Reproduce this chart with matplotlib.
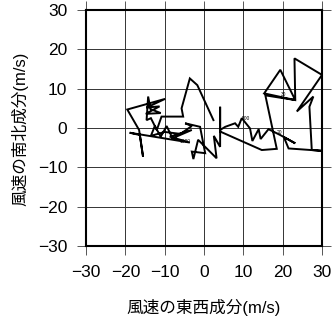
import matplotlib
matplotlib.use("Agg")
import matplotlib.pyplot as plt

# wind components (m/s): east-west (u) and north-south (v), in path order
u = [2.4, -1.7, -3.6, -5.7, -5.3, -10.8, -12.0, -13.5, -14.6, -14.2, -13.6, -11.0,
     -14.8, -11.3, -14.6, -9.9, -19.5, -16.5, -15.5, -16.3, -18.9, -3.6, -8.7,
     -3.1, -8.0, -9.5, -11.0, -12.5, -13.5, -10.0, -6.0, -3.1,
     -4.8, -1.0, 0.3, -3.1, -2.7, -1.5, 1.0, 3.2, 2.5, 4.1, 4.1, 4.1, 14.7, 18.5,
     15.6, 23.2, 19.4, 15.3, 23.2, 23.0, 30.0, 23.6, 27.8, 26.8, 27.4, 30.0, 21.5,
     20.3, 23.2, 19.4, 16.4, 14.4, 13.9, 12.3, 11.7, 9.6, 8.7, 7.9, 5.4, 4.1]
v = [2.0, 10.9, 12.6, 5.0, 2.9, 2.9, -0.5, 2.5, 2.0, 8.0, 4.8, 3.8,
     3.6, 5.5, 5.2, 7.4, 4.7, -0.5, -7.3, -1.8, -1.2, -3.7, -2.2,
     -0.5, -2.6, 0.5, -2.2, 0.5, -2.0, -1.0, -1.5, 0.5,
     1.2, 0.3, -6.4, -6.0, -7.9, -3.0, -5.5, -7.7, -2.0, -4.8, 5.4, -0.9, -5.6, -5.3,
     8.3, 7.1, 14.8, 8.8, 7.1, 17.7, 13.5, 4.2, 8.0, 5.4, -5.6, -5.8, -5.2,
     -2.3, -3.9, -1.8, -0.3, -2.8, -0.3, -3.3, -0.1, 2.5, 0.3, 1.2, 0.3, -0.5]

level_labels = ["1000", "500", "30", "20"]
level_u = [-4.8, 10.7, 20.3, 19.3]
level_v = [-3.5, 2.3, 8.4, -1.1]

ticks = [-30, -20, -10, 0, 10, 20, 30]
tick_labels = ["\u221230", "\u221220", "\u221210", "0", "10", "20", "30"]

W, H = 332, 319
fig = plt.figure(figsize=(W / 100, H / 100), dpi=100)
ax = fig.add_axes([86 / W, 1 - 246 / H, 236 / W, 236 / H])

ax.plot(u, v, color="black", lw=1.4, solid_joinstyle="miter", zorder=3)
for t, x, y in zip(level_labels, level_u, level_v):
    ax.text(x, y, t, fontsize=3.5, ha="center", va="center",
            family="Liberation Sans", zorder=4)

ax.set_xlim(-30, 30)
ax.set_ylim(-30, 30)
ax.set_xticks(ticks)
ax.set_yticks(ticks)
ax.set_xticklabels(tick_labels, family="Liberation Sans", fontsize=12.5)
ax.set_yticklabels(tick_labels, family="Liberation Sans", fontsize=12.5)
ax.grid(True, color="#333333", lw=0.7, zorder=1)
ax.tick_params(direction="out", length=6.5, width=0.7, color="#555555",
               top=True, right=True, labeltop=False, labelright=False)
ax.tick_params(axis="x", pad=7.5)
ax.tick_params(axis="y", pad=7)
for s in ax.spines.values():
    s.set_linewidth(1.5)
    s.set_zorder(5)

fig.text(204 / W, 1 - 307 / H, "風速の東西成分(m/s)",
         family=["Liberation Sans", "Noto Sans CJK JP"], fontsize=12,
         ha="center", va="center")
fig.text(20 / W, 1 - 129 / H, "風速の南北成分(m/s)",
         family=["Liberation Sans", "Noto Sans CJK JP"], fontsize=12,
         ha="center", va="center", rotation=90)

fig.savefig("out.png", dpi=100)
